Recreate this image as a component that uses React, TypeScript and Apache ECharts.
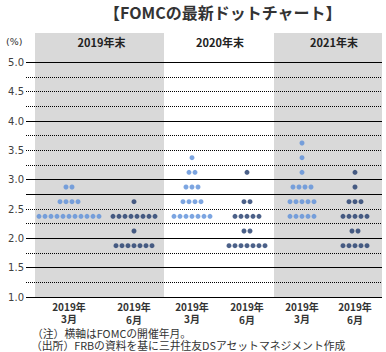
import React, { useEffect, useRef } from "react";
import * as echarts from "echarts";

// ---- data ----
const rateLevels = [1.875, 2.125, 2.375, 2.625, 2.875, 3.125, 3.375, 3.625];
const fomcYear = ["2019年", "2019年", "2019年", "2019年", "2019年", "2019年"];
const fomcMonth = ["3月", "6月", "3月", "6月", "3月", "6月"];
const yearEndLabels = ["2019年末", "2020年末", "2021年末"];
// dot counts per rate level (same order as rateLevels)
const mar2019For2019 = [0, 0, 11, 4, 2, 0, 0, 0];
const jun2019For2019 = [7, 1, 8, 1, 0, 0, 0, 0];
const mar2019For2020 = [0, 0, 7, 4, 3, 2, 1, 0];
const jun2019For2020 = [7, 2, 5, 2, 0, 1, 0, 0];
const mar2019For2021 = [0, 0, 5, 5, 4, 1, 1, 1];
const jun2019For2021 = [5, 2, 5, 3, 1, 1, 0, 0];
const meetingCounts = [
  mar2019For2019,
  jun2019For2019,
  mar2019For2020,
  jun2019For2020,
  mar2019For2021,
  jun2019For2021,
];
const yTickLabels = ["1.0", "1.5", "2.0", "2.5", "3.0", "3.5", "4.0", "4.5", "5.0"];
const gridLevels = [5.0, 4.75, 4.5, 4.25, 4.0, 3.75, 3.5, 3.25, 3.0, 2.75, 2.5, 2.25, 2.0, 1.75, 1.5, 1.25, 1.0];
const gridSolid = [true, false, false, false, true, false, false, false, true, true, false, false, true, false, true, false, true];

// ---- layout (x axis in horizontal layout units) ----
const X_MIN = 26;
const X_MAX = 382;
const groupCenters = [69, 134, 192, 247, 302, 355];
const bandEdges = [35, 164, 274, 382];
const bandFill = ["#d9d9d9", "rgba(0,0,0,0)", "#d9d9d9"];
const bandLabelOffset = [2, 1, 6];
const dotStep = 6;
const LIGHT = "#5b8fd9";
const DARK = "#1f3a6b";

export default function App() {
  const ref = useRef<HTMLDivElement>(null);
  useEffect(() => {
    document.body.style.margin = "0";
    const chart = echarts.init(ref.current!, null, { renderer: "svg" });

    const lightData: number[][] = [];
    const darkData: number[][] = [];
    meetingCounts.forEach((counts, m) => {
      counts.forEach((n, li) => {
        for (let i = 0; i < n; i++) {
          const x = groupCenters[m] + (i - (n - 1) / 2) * dotStep;
          (m % 2 === 0 ? lightData : darkData).push([x, rateLevels[li]]);
        }
      });
    });

    const areas = yearEndLabels.map((name, i) => [
      {
        name,
        xAxis: bandEdges[i],
        itemStyle: { color: bandFill[i] },
        label: { offset: [bandLabelOffset[i], 0] },
      },
      { xAxis: bandEdges[i + 1] },
    ]);

    const lines = gridLevels.map((v, i) => ({
      yAxis: v,
      lineStyle: {
        color: "#000",
        width: 1,
        type: gridSolid[i] ? "solid" : [1, 1],
      },
    }));

    const cjk = '"Noto Sans CJK JP", "Noto Sans", sans-serif';
    const lbl = { fontFamily: cjk, fontSize: 10, fontWeight: "bold", color: "#333", lineHeight: 12 };

    chart.setOption({
      animation: false,
      backgroundColor: "#ffffff",
      grid: { left: 26, right: 4, top: 33, bottom: 55, containLabel: false },
      xAxis: {
        type: "value",
        min: X_MIN,
        max: X_MAX,
        splitLine: { show: false },
        axisLine: { show: false },
        axisTick: { show: false },
        axisLabel: {
          customValues: groupCenters,
          margin: 3,
          formatter: (v: number) => {
            const idx = groupCenters.indexOf(v);
            if (idx < 0) return "";
            const sty = idx % 2 === 0 ? "m" : "n";
            return `{y|${fomcYear[idx]}}\n{${sty}|${fomcMonth[idx]}}`;
          },
          rich: {
            y: { ...lbl },
            m: { ...lbl },
            n: { ...lbl, padding: [2, 0, 0, 0] },
          },
        },
      },
      yAxis: {
        type: "value",
        min: 1,
        max: 5.5,
        interval: 0.5,
        splitLine: { show: false },
        axisLine: { show: false },
        axisTick: { show: false },
        axisLabel: {
          margin: 2,
          color: "#404040",
          fontFamily: '"DejaVu Sans", sans-serif',
          fontSize: 10,
          formatter: (v: number) => {
            const s = v.toFixed(1);
            return yTickLabels.indexOf(s) >= 0 ? s : "";
          },
        },
      },
      series: [
        {
          type: "scatter",
          name: "bands",
          data: [],
          silent: true,
          markArea: {
            silent: true,
            label: {
              show: true,
              position: "insideTop",
              distance: 3,
              fontFamily: cjk,
              fontSize: 11,
              fontWeight: "bold",
              color: "#222",
            },
            data: areas,
          },
          markLine: {
            silent: true,
            symbol: ["none", "none"],
            label: { show: false },
            data: lines,
          },
          z: 1,
        },
        {
          type: "scatter",
          name: "2019年3月",
          data: lightData,
          symbol: "circle",
          symbolSize: 5,
          itemStyle: { color: LIGHT },
          z: 5,
        },
        {
          type: "scatter",
          name: "2019年6月",
          data: darkData,
          symbol: "circle",
          symbolSize: 5,
          itemStyle: { color: DARK },
          z: 5,
        },
      ],
      graphic: [
        {
          type: "text",
          x: 104,
          y: 4,
          style: {
            text: "【FOMCの最新ドットチャート】",
            fontFamily: cjk,
            fontSize: 16,
            fontWeight: "bold",
            fill: "#333",
          },
        },
        {
          type: "text",
          x: 6,
          y: 36,
          style: { text: "(%)", fontFamily: '"DejaVu Sans", sans-serif', fontSize: 9.5, fill: "#333" },
        },
        {
          type: "text",
          x: 32,
          y: 328,
          style: { text: "（注）横軸はFOMCの開催年月。", fontFamily: cjk, fontSize: 10.8, fill: "#333" },
        },
        {
          type: "text",
          x: 31,
          y: 340,
          style: { text: "（出所）FRBの資料を基に三井住友DSアセットマネジメント作成", fontFamily: cjk, fontSize: 10.8, fill: "#333" },
        },
      ],
    });
    return () => chart.dispose();
  }, []);
  return (
    <div
      ref={ref}
      style={{ position: "fixed", left: 0, top: 0, width: 386, height: 352 }}
    />
  );
}
